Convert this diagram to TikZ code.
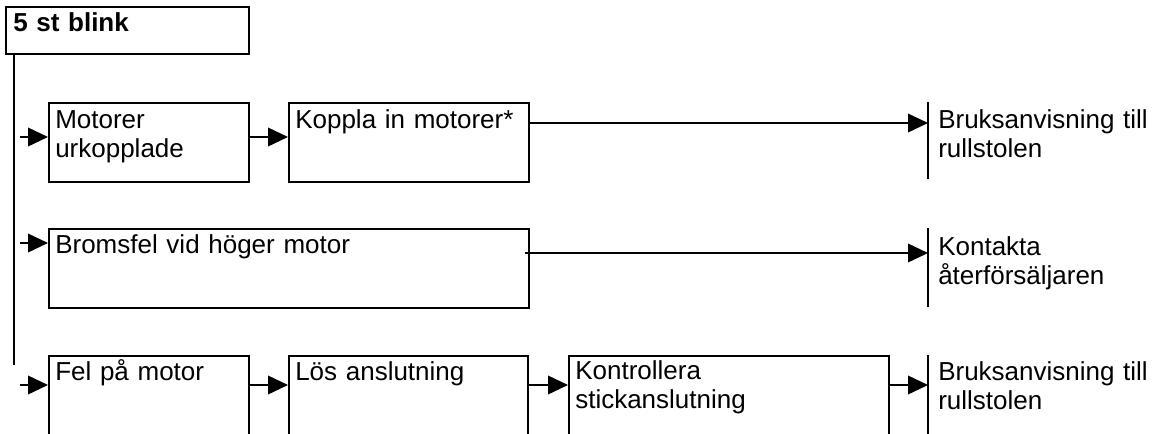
\documentclass[tikz,border=0pt]{standalone}
\usepackage{fontspec}
\setmainfont{Liberation Sans}
\usetikzlibrary{arrows.meta}
\begin{document}
\begin{tikzpicture}[x=0.75pt,y=-0.75pt,
  box/.style={draw,line width=1.5pt,anchor=north west,inner sep=0pt},
  bx/.style n args={2}{minimum width={#1*0.75pt},minimum height={#2*0.75pt}},
  txt/.style={anchor=base west,inner sep=0pt,text width=240pt,align=left,font=\fontsize{19.5}{22.1}\selectfont},
  conn/.style={line width=1.2pt,-{Triangle[length=15pt,width=14pt]}},
  bar/.style={line width=1.3pt}]
\useasboundingbox (0,0) rectangle (1161,433);
\clip (0,0) rectangle (1161,433);
% boxes
\node[box,bx={243}{47}] (top) at (5,6) {};
\node[box,bx={200}{79}] (a) at (48,102) {};
\node[box,bx={240}{79}] (b) at (288,102) {};
\node[box,bx={480}{79}] (c) at (48,228) {};
\node[box,bx={200}{85}] (d) at (48,355) {};
\node[box,bx={239}{85}] (e) at (288,355) {};
\node[box,bx={320}{85}] (f) at (568,355) {};
% texts in boxes
\node[txt,font=\fontsize{19.5}{22.1}\selectfont\bfseries] (ttop) at ([shift={(8,25)}]top.north west) {5 st blink};
\node[txt] (ta) at ([shift={(7,26)}]a.north west) {Motorer\\urkopplade};
\node[txt] (tb) at ([shift={(7,26)}]b.north west) {Koppla in motorer*};
\node[txt] (tc) at ([shift={(7,25)}]c.north west) {Bromsfel vid höger motor};
\node[txt] (td) at ([shift={(7,25)}]d.north west) {Fel på motor};
\node[txt] (te) at ([shift={(7,25)}]e.north west) {Lös anslutning};
\node[txt] (tf) at ([shift={(7,24)}]f.north west) {Kontrollera\\stickanslutning};
% right side results
\coordinate (r1t) at (928,102); \coordinate (r1b) at (928,179);
\coordinate (r2t) at (928,228); \coordinate (r2b) at (928,307);
\coordinate (r3t) at (928,355); \coordinate (r3b) at (928,440);
\draw[bar] (r1t) -- (r1b);
\draw[bar] (r2t) -- (r2b);
\draw[bar] (r3t) -- (r3b);
\node[txt] (r1) at ([shift={(10,26)}]r1t) {Bruksanvisning till\\rullstolen};
\node[txt] (r2) at ([shift={(10,27)}]r2t) {Kontakta\\återförsäljaren};
\node[txt] (r3) at ([shift={(10,25)}]r3t) {Bruksanvisning till\\rullstolen};
% main vertical line
\coordinate (v) at (14,365);
\draw[bar] (top.south -| v) -- (v);
% row 1
\coordinate (s1) at (20,137);
\draw[conn] (s1) -- (s1 -| a.west);
\draw[conn] (a.east |- s1) -- (b.west |- s1);
\coordinate (p1) at (528,123);
\draw[conn] (p1 -| b.east) -- (p1 -| r1t);
% row 2
\coordinate (s2) at (20,243);
\draw[conn] (s2) -- (s2 -| c.west);
\coordinate (p2) at (525,253);
\draw[conn] (p2) -- (p2 -| r2t);
% row 3
\coordinate (s3) at (20,385);
\draw[conn] (s3) -- (s3 -| d.west);
\draw[conn] (d.east |- s3) -- (e.west |- s3);
\draw[conn] (e.east |- s3) -- (f.west |- s3);
\draw[conn] (f.east |- s3) -- (s3 -| r3t);
\end{tikzpicture}
\end{document}
